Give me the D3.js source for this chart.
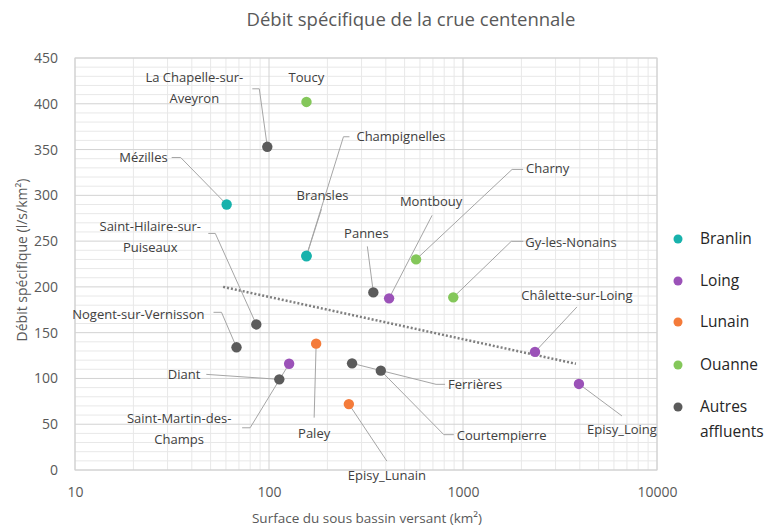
<!DOCTYPE html>
<html>
<head>
<meta charset="utf-8">
<script src="https://cdn.jsdelivr.net/npm/d3@7"></script>
<style>
  body { margin: 0; background: #fff; }
  svg { font-family: "Open Sans", sans-serif; }
</style>
</head>
<body>
<svg id="chart" width="784" height="528"></svg>
<script>
// --- data ---
const stations = ["Mézilles", "Champignelles", "Bransles",
  "Montbouy", "Châlette-sur-Loing", "Episy_Loing", "Saint-Martin-des-Champs",
  "Paley", "Episy_Lunain",
  "Toucy", "Charny", "Gy-les-Nonains",
  "La Chapelle-sur-Aveyron", "Pannes", "Ferrières", "Courtempierre",
  "Saint-Hilaire-sur-Puiseaux", "Nogent-sur-Vernisson", "Diant"];
const surfaces = [60.5, 156, 156, 416, 2350, 3960, 127, 175, 258, 156, 573, 891, 98, 345, 268, 377, 86, 68, 113];
const debits = [290, 234, 233.5, 187.5, 129, 94, 116, 138, 72, 402, 230, 188.6, 353, 194, 116.5, 108.5, 159, 134, 99];
const rivers = ["Branlin", "Branlin", "Branlin", "Loing", "Loing", "Loing", "Loing",
  "Lunain", "Lunain", "Ouanne", "Ouanne", "Ouanne",
  "Autres", "Autres", "Autres", "Autres", "Autres", "Autres", "Autres"];

const seriesNames = ["Branlin", "Loing", "Lunain", "Ouanne", "Autres"];
const seriesLabels = [["Branlin"], ["Loing"], ["Lunain"], ["Ouanne"], ["Autres", "affluents"]];
const seriesColors = ["#18b2ac", "#9b52b8", "#f47b3a", "#84c75a", "#5b5b5b"];

// logarithmic trend line (straight on a log axis), end points
const trendSurface = [58, 3820];
const trendDebit = [200, 116];

const yTicks = [0, 50, 100, 150, 200, 250, 300, 350, 400, 450];
const xTicks = [10, 100, 1000, 10000];

// label placement (pixel offsets from the point): text centre, anchor, leader bend points
const labelLayout = {
  "La Chapelle-sur-Aveyron": { lines: ["La Chapelle-sur-", "Aveyron"], tx: -73, ty: -69, anchor: "middle", leader: [[-15, -58], [-8, -58]] },
  "Toucy": { lines: ["Toucy"], tx: 0, ty: -24, anchor: "middle", leader: [] },
  "Mézilles": { lines: ["Mézilles"], tx: -59, ty: -47, anchor: "end", leader: [[-55, -47], [-46, -47]] },
  "Champignelles": { lines: ["Champignelles"], tx: 50, ty: -119, anchor: "start", leader: [[43, -119], [37, -119]] },
  "Bransles": { lines: ["Bransles"], tx: 16, ty: -61, anchor: "middle", leader: [[15, -47]] },
  "Charny": { lines: ["Charny"], tx: 110, ty: -91, anchor: "start", leader: [[107, -90], [96, -90]] },
  "Montbouy": { lines: ["Montbouy"], tx: 42, ty: -97, anchor: "middle", leader: [[43, -83]] },
  "Pannes": { lines: ["Pannes"], tx: -7, ty: -59, anchor: "middle", leader: [[-6, -46]] },
  "Gy-les-Nonains": { lines: ["Gy-les-Nonains"], tx: 72, ty: -55, anchor: "start", leader: [[70, -56], [58, -56]] },
  "Châlette-sur-Loing": { lines: ["Châlette-sur-Loing"], tx: 42, ty: -56, anchor: "middle", leader: [[42, -45]] },
  "Episy_Loing": { lines: ["Episy_Loing"], tx: 43, ty: 46, anchor: "middle", leader: [[43, 32]] },
  "Ferrières": { lines: ["Ferrières"], tx: 96, ty: 21, anchor: "start", leader: [[93, 21], [84, 21]] },
  "Courtempierre": { lines: ["Courtempierre"], tx: 76, ty: 65, anchor: "start", leader: [[73, 64], [63, 64]] },
  "Episy_Lunain": { lines: ["Episy_Lunain"], tx: 38, ty: 71, anchor: "middle", leader: [[38, 57]] },
  "Paley": { lines: ["Paley"], tx: -2, ty: 90, anchor: "middle", leader: [[-2, 74]] },
  "Saint-Hilaire-sur-Puiseaux": { lines: ["Saint-Hilaire-sur-", "Puiseaux"], tx: -106, ty: -98, anchor: "middle", leader: [[-48, -91], [-41, -91]] },
  "Nogent-sur-Vernisson": { lines: ["Nogent-sur-Vernisson"], tx: -32, ty: -33, anchor: "end", leader: [[-23, -35], [-15, -35]] },
  "Diant": { lines: ["Diant"], tx: -79, ty: -5, anchor: "end", leader: [[-73, -5]] },
  "Saint-Martin-des-Champs": { lines: ["Saint-Martin-des-", "Champs"], tx: -110, ty: 55, anchor: "middle", leader: [[-47, 64], [-39, 64]] }
};

// --- layout ---
const svg = d3.select("#chart");
const plot = { left: 75, right: 657, top: 58, bottom: 470 };

const x = d3.scaleLog().domain([10, 10000]).range([plot.left, plot.right]);
const y = d3.scaleLinear().domain([0, 450]).range([plot.bottom, plot.top]);
const color = d3.scaleOrdinal().domain(seriesNames).range(seriesColors);

const textColor = "#595959";

// minor grid
const minorX = [];
xTicks.slice(0, -1).forEach(d => { for (let k = 2; k <= 9; k++) minorX.push(d * k); });
const minorY = d3.range(0, 451, 10).filter(v => v % 50 !== 0);

const grid = svg.append("g");
grid.selectAll(".mx").data(minorX).join("line")
  .attr("x1", d => x(d)).attr("x2", d => x(d))
  .attr("y1", plot.top).attr("y2", plot.bottom)
  .attr("stroke", "#e8e8e8").attr("stroke-width", 1);
grid.selectAll(".my").data(minorY).join("line")
  .attr("x1", plot.left).attr("x2", plot.right)
  .attr("y1", d => y(d)).attr("y2", d => y(d))
  .attr("stroke", "#e8e8e8").attr("stroke-width", 1);
grid.selectAll(".Mx").data(xTicks).join("line")
  .attr("x1", d => x(d)).attr("x2", d => x(d))
  .attr("y1", plot.top).attr("y2", plot.bottom)
  .attr("stroke", "#d2d2d2").attr("stroke-width", 1);
grid.selectAll(".My").data(yTicks).join("line")
  .attr("x1", plot.left).attr("x2", plot.right)
  .attr("y1", d => y(d)).attr("y2", d => y(d))
  .attr("stroke", "#d2d2d2").attr("stroke-width", 1);
svg.append("rect")
  .attr("x", plot.left).attr("y", plot.top)
  .attr("width", plot.right - plot.left).attr("height", plot.bottom - plot.top)
  .attr("fill", "none").attr("stroke", "#d2d2d2");

// axes (labels only, Excel style)
const yAxis = svg.append("g")
  .attr("transform", `translate(${plot.left - 14},0)`)
  .call(d3.axisLeft(y).tickValues(yTicks).tickSize(0));
const xAxis = svg.append("g")
  .attr("transform", `translate(0,${plot.bottom + 14})`)
  .call(d3.axisBottom(x).tickValues(xTicks).tickFormat(d3.format("d")).tickSize(0));
[yAxis, xAxis].forEach(a => {
  a.select(".domain").remove();
  a.selectAll("text").attr("fill", textColor).style("font-size", "14px")
    .style("font-family", "'Open Sans', sans-serif");
});

// titles
svg.append("text")
  .attr("x", 411).attr("y", 26)
  .attr("text-anchor", "middle")
  .attr("fill", textColor).style("font-size", "18.5px")
  .text("Débit spécifique de la crue centennale");
svg.append("text")
  .attr("x", 367).attr("y", 523)
  .attr("text-anchor", "middle")
  .attr("fill", textColor).style("font-size", "13.5px")
  .text("Surface du sous bassin versant (km²)");
svg.append("text")
  .attr("transform", "translate(27,260) rotate(-90)")
  .attr("text-anchor", "middle")
  .attr("fill", textColor).style("font-size", "14px")
  .text("Débit spécifique (l/s/km²)");

// trend line
const trend = trendSurface.map((s, i) => [s, trendDebit[i]]);
svg.append("path")
  .datum(trend)
  .attr("d", d3.line().x(d => x(d[0])).y(d => y(d[1])))
  .attr("fill", "none")
  .attr("stroke", "#7f7f7f")
  .attr("stroke-width", 2.5)
  .attr("stroke-dasharray", "2 2");

// points
const points = stations.map((name, i) => ({
  name, surface: surfaces[i], debit: debits[i], river: rivers[i],
  px: x(surfaces[i]), py: y(debits[i])
}));

// leader lines
const leaders = svg.append("g");
points.forEach(p => {
  const L = labelLayout[p.name];
  if (!L || !L.leader.length) return;
  const pts = L.leader.map(([dx, dy]) => [p.px + dx, p.py + dy]);
  pts.push([p.px, p.py]);
  leaders.append("path")
    .attr("d", d3.line()(pts))
    .attr("fill", "none")
    .attr("stroke", "#a5a5a5")
    .attr("stroke-width", 1);
});

// markers, drawn series by series
seriesNames.forEach(s => {
  svg.append("g").selectAll("circle")
    .data(points.filter(p => p.river === s))
    .join("circle")
    .attr("cx", d => d.px).attr("cy", d => d.py)
    .attr("r", 5.2)
    .attr("fill", color(s));
});

// data labels
const labels = svg.append("g").style("font-size", "13px").attr("fill", "#404040");
points.forEach(p => {
  const L = labelLayout[p.name];
  const t = labels.append("text")
    .attr("text-anchor", L.anchor)
    .attr("x", p.px + L.tx)
    .attr("y", p.py + L.ty);
  L.lines.forEach((line, j) => {
    t.append("tspan")
      .attr("x", p.px + L.tx)
      .attr("dy", j === 0 ? "0.35em" : "21px")
      .text(line);
  });
});

// legend
const legendY = [239, 281, 322, 365, 407];
const legend = svg.append("g");
seriesNames.forEach((s, i) => {
  legend.append("circle")
    .attr("cx", 678).attr("cy", legendY[i]).attr("r", 4.5)
    .attr("fill", color(s));
  const t = legend.append("text")
    .attr("x", 700).attr("y", legendY[i])
    .attr("fill", "#262626").style("font-size", "15.5px");
  seriesLabels[i].forEach((line, j) => {
    t.append("tspan").attr("x", 700)
      .attr("dy", j === 0 ? "0.35em" : "25px")
      .text(line);
  });
});
</script>
</body>
</html>
